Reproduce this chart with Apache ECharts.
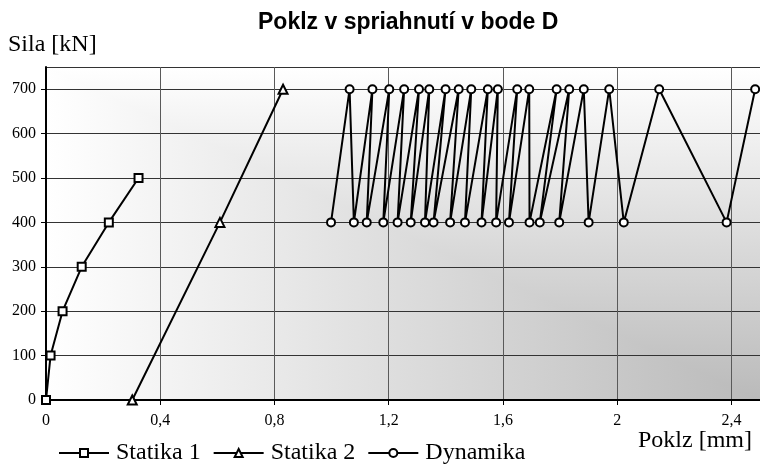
<!DOCTYPE html>
<html>
<head>
<meta charset="utf-8">
<title>Poklz v spriahnutí v bode D</title>
<script src="https://cdn.jsdelivr.net/npm/echarts@6/dist/echarts.min.js"></script>
<style>
  html, body { margin: 0; padding: 0; background: #fff; }
  #main { width: 760px; height: 468px; }
</style>
</head>
<body>
<div id="main"></div>
<script>
// údaje odčítané z grafu
var statika1X = [0, 0.016, 0.058, 0.125, 0.22, 0.324];
var statika1Y = [0, 100, 200, 300, 400, 500];

var statika2X = [0.302, 0.609, 0.83];
var statika2Y = [0, 400, 700];

var dynamikaX = [0.998, 1.063, 1.078, 1.143, 1.123, 1.202, 1.181, 1.254, 1.231, 1.306,
  1.277, 1.342, 1.327, 1.399, 1.357, 1.445, 1.415, 1.489, 1.467, 1.547,
  1.525, 1.582, 1.576, 1.650, 1.621, 1.692, 1.693, 1.788, 1.729, 1.832,
  1.797, 1.883, 1.900, 1.972, 2.023, 2.147, 2.383, 2.483];
var dynamikaY = [400, 700, 400, 700, 400, 700, 400, 700, 400, 700,
  400, 700, 400, 700, 400, 700, 400, 700, 400, 700,
  400, 700, 400, 700, 400, 700, 400, 700, 400, 700,
  400, 700, 400, 700, 400, 700, 400, 700];

var seriesNames = ['Statika 1', 'Statika 2', 'Dynamika'];
var xRange = [0, 2.5];
var yRange = [0, 750];

var serif = 'Liberation Serif';

function pairs(xs, ys) {
  var out = [];
  for (var i = 0; i < xs.length; i++) out.push([xs[i], ys[i]]);
  return out;
}

function lineSeries(name, symbol, size, data) {
  return {
    name: name,
    type: 'line',
    data: data,
    symbol: symbol,
    symbolSize: size,
    lineStyle: { color: '#000', width: 2 },
    itemStyle: { color: '#fff', borderColor: '#000', borderWidth: 2 },
    emphasis: { disabled: true }
  };
}

var chart = echarts.init(document.getElementById('main'), null, { renderer: 'canvas' });

var option = {
  animation: false,
  backgroundColor: '#fff',
  title: [
    {
      text: 'Poklz v spriahnutí v bode D',
      left: 253, top: 6,
      textStyle: { fontFamily: 'Liberation Sans', fontWeight: 'bold', fontSize: 23, color: '#000' }
    },
    {
      text: 'Sila [kN]',
      left: 3, top: 28,
      textStyle: { fontFamily: serif, fontWeight: 'normal', fontSize: 24, color: '#000' }
    },
    {
      text: 'Poklz [mm]',
      right: 3, top: 424,
      textStyle: { fontFamily: serif, fontWeight: 'normal', fontSize: 24, color: '#000' }
    }
  ],
  legend: {
    data: seriesNames,
    left: 53, top: 436,
    itemWidth: 50, itemHeight: 10, itemGap: 12,
    selectedMode: false,
    textStyle: { fontFamily: serif, fontSize: 24, color: '#000', padding: [0, 0, 0, 2] }
  },
  grid: {
    left: 46, right: 0, top: 67, bottom: 68,
    show: true, borderWidth: 0, backgroundColor: 'transparent'
  },
  xAxis: [
    {
      type: 'value',
      min: xRange[0], max: xRange[1], interval: 0.4,
      axisLine: { onZero: false, lineStyle: { color: '#000', width: 2 } },
      axisTick: { show: true, length: 5, lineStyle: { color: '#000' } },
      axisLabel: {
        margin: 13, showMaxLabel: false,
        fontFamily: serif, fontSize: 16, color: '#000',
        formatter: function (v) { return String(v).replace('.', ','); }
      },
      splitLine: { show: true, lineStyle: { color: '#5a5a5a', width: 1 } }
    },
    {
      // horný okraj
      type: 'value', position: 'top',
      min: xRange[0], max: xRange[1],
      axisLine: { lineStyle: { color: '#000', width: 2 } },
      axisTick: { show: false }, axisLabel: { show: false }, splitLine: { show: false }
    }
  ],
  yAxis: {
    type: 'value',
    min: yRange[0], max: yRange[1], interval: 100,
    axisLine: { show: true, onZero: false, lineStyle: { color: '#000', width: 2 } },
    axisTick: { show: true, length: 5, lineStyle: { color: '#000' } },
    axisLabel: {
      margin: 10, showMaxLabel: false,
      fontFamily: serif, fontSize: 16, color: '#000'
    },
    splitLine: { show: true, lineStyle: { color: '#333', width: 1 } }
  },
  series: [
    lineSeries(seriesNames[0], 'rect', 8, pairs(statika1X, statika1Y)),
    lineSeries(seriesNames[1], 'triangle', 9, pairs(statika2X, statika2Y)),
    lineSeries(seriesNames[2], 'circle', 8, pairs(dynamikaX, dynamikaY))
  ]
};

chart.setOption(option);

// pozadie: prechod z bieleho ľavého horného rohu do šedého pravého dolného
function cornerShade() {
  var tl = chart.convertToPixel({ gridIndex: 0 }, [xRange[0], yRange[1]]);
  var br = chart.convertToPixel({ gridIndex: 0 }, [xRange[1], yRange[0]]);
  var cv = document.createElement('canvas');
  cv.width = chart.getWidth();
  cv.height = chart.getHeight();
  var ctx = cv.getContext('2d');
  var light = '#ffffff', dark = '#bababa';

  // celá plocha vodorovným prechodom
  var gx = ctx.createLinearGradient(tl[0], 0, br[0], 0);
  gx.addColorStop(0, light);
  gx.addColorStop(1, dark);
  ctx.fillStyle = gx;
  ctx.fillRect(tl[0], tl[1], br[0] - tl[0], br[1] - tl[1]);

  // horný pravý trojuholník zvislým prechodom
  var gy = ctx.createLinearGradient(0, tl[1], 0, br[1]);
  gy.addColorStop(0, light);
  gy.addColorStop(1, dark);
  ctx.fillStyle = gy;
  ctx.beginPath();
  ctx.moveTo(tl[0], tl[1]);
  ctx.lineTo(br[0], tl[1]);
  ctx.lineTo(br[0], br[1]);
  ctx.closePath();
  ctx.fill();
  return cv;
}

chart.setOption({
  grid: { backgroundColor: { image: cornerShade(), repeat: 'no-repeat' } }
});
</script>
</body>
</html>
